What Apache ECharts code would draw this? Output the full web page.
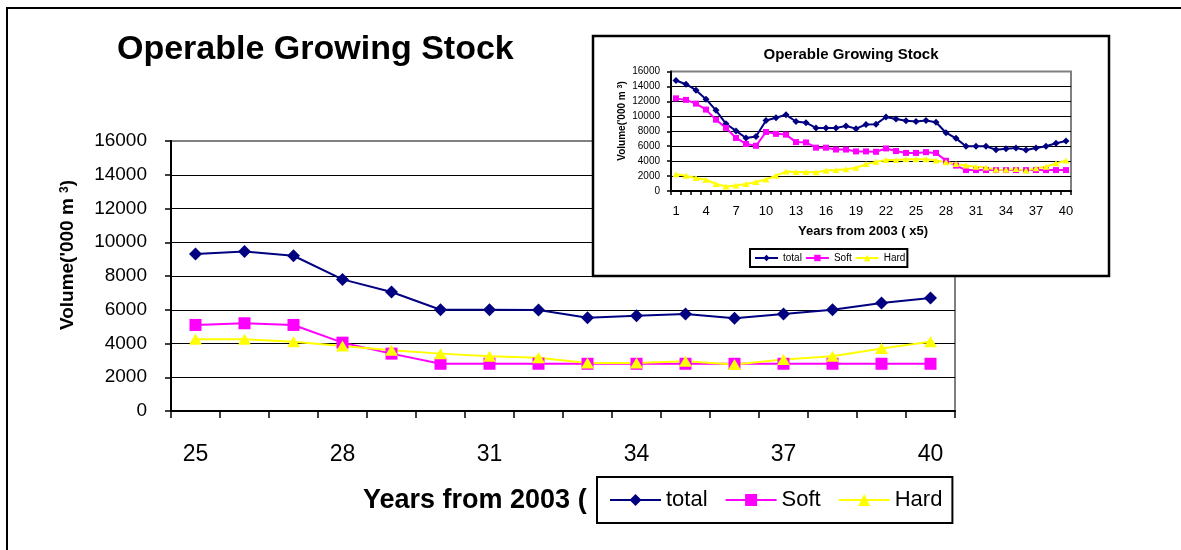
<!DOCTYPE html>
<html>
<head>
<meta charset="utf-8">
<title>Operable Growing Stock</title>
<script src="https://cdn.jsdelivr.net/npm/echarts@6/dist/echarts.min.js"></script>
<style>
  html, body { margin: 0; padding: 0; background: #fff; }
  #chart { width: 1181px; height: 550px; }
</style>
</head>
<body>
<div id="chart"></div>
<script>
// Five-year periods counted from 2003
const periods = ['1','2','3','4','5','6','7','8','9','10','11','12','13','14','15','16','17','18','19','20',
                 '21','22','23','24','25','26','27','28','29','30','31','32','33','34','35','36','37','38','39','40'];

// Operable growing stock, '000 m3
const total = [14800, 14300, 13500, 12300, 10800, 9000, 8050, 7100, 7300, 9450,
               9800, 10200, 9300, 9150, 8450, 8450, 8450, 8700, 8350, 8900,
               8950, 9900, 9650, 9400, 9300, 9450, 9200, 7800, 7050, 6000,
               6000, 5980, 5530, 5650, 5750, 5500, 5750, 6000, 6400, 6700];
const soft  = [12400, 12200, 11700, 10900, 9550, 8450, 7100, 6300, 6050, 7900,
               7650, 7550, 6550, 6500, 5800, 5800, 5550, 5550, 5300, 5300,
               5250, 5700, 5350, 5100, 5100, 5200, 5100, 4050, 3400, 2800,
               2800, 2800, 2800, 2800, 2800, 2800, 2800, 2800, 2800, 2800];
const hard  = [2250, 2050, 1750, 1500, 950, 600, 750, 950, 1200, 1550,
               2050, 2600, 2550, 2550, 2500, 2750, 2800, 2900, 3100, 3600,
               3900, 4150, 4150, 4250, 4250, 4250, 4100, 3850, 3600, 3400,
               3250, 3150, 2850, 2850, 2950, 2750, 3050, 3250, 3700, 4100];

// Value axis ticks
const volumeMin = 0;
const volumeMax = 16000;
const volumeStep = 2000;

// The large view shows the later part of the horizon (periods 25-40)
const zoomStart = periods.indexOf('25');

const FONT = "'Liberation Sans', Arial, Helvetica, sans-serif";
const NAVY = '#000080';
const MAGENTA = '#ff00ff';
const YELLOW = '#ffff00';
const GREY = '#808080';

// split lines are black except the top one, which is the grey plot frame
const gridColours = [];
for (let v = volumeMin; v <= volumeMax; v += volumeStep) {
  gridColours.push(v === volumeMax ? GREY : '#000');
}

const chart = echarts.init(document.getElementById('chart'), null, { renderer: 'canvas' });

function valueAxis(gridIndex, fontSize, margin, tickLen, z) {
  return {
    type: 'value', gridIndex: gridIndex, z: z,
    min: volumeMin, max: volumeMax, interval: volumeStep,
    axisLine: { show: true, lineStyle: { color: '#000', width: 2 } },
    axisTick: { show: true, length: tickLen, lineStyle: { color: '#000', width: 1.5 } },
    axisLabel: { color: '#000', fontSize: fontSize, fontFamily: FONT, margin: margin,
                 formatter: function (v) { return String(v); } },
    splitLine: { show: true, lineStyle: { color: gridColours, width: 1 } }
  };
}

function periodAxis(gridIndex, cats, fontSize, margin, tickLen, z) {
  return {
    type: 'category', gridIndex: gridIndex, z: z, data: cats, boundaryGap: true,
    axisLine: { show: true, lineStyle: { color: '#000', width: 2 } },
    axisTick: { show: true, interval: 0, length: tickLen, lineStyle: { color: '#000', width: 1.5 } },
    axisLabel: { color: '#000', fontSize: fontSize, fontFamily: FONT, margin: margin, interval: 2 },
    splitLine: { show: false }
  };
}

function lineSeries(name, data, colour, symbol, size, axisIndex, z) {
  return {
    name: name, type: 'line', data: data,
    xAxisIndex: axisIndex, yAxisIndex: axisIndex, z: z,
    symbol: symbol, symbolSize: size, showSymbol: true, showAllSymbol: true,
    lineStyle: { color: colour, width: 2 },
    itemStyle: { color: colour },
    emphasis: { disabled: true },
    animation: false
  };
}

const option = {
  backgroundColor: '#fff',
  animation: false,
  textStyle: { fontFamily: FONT },
  title: [
    { text: 'Operable Growing Stock', left: 117, top: 33, padding: 0,
      textStyle: { fontSize: 34, fontWeight: 'bold', color: '#000', fontFamily: FONT } },
    { text: 'Years from 2003 (', left: 363, top: 487, padding: 0,
      textStyle: { fontSize: 27, fontWeight: 'bold', color: '#000', fontFamily: FONT } },
    { text: 'Operable Growing Stock', left: 851, top: 47, padding: 0, textAlign: 'center', z: 60,
      textStyle: { fontSize: 15, fontWeight: 'bold', color: '#000', fontFamily: FONT } },
    { text: 'Years from 2003 ( x5)', left: 863, top: 225, padding: 0, textAlign: 'center', z: 60,
      textStyle: { fontSize: 13, fontWeight: 'bold', color: '#000', fontFamily: FONT } }
  ],
  legend: [
    { data: ['total', 'Soft', 'Hard'], left: 597, top: 477, orient: 'horizontal',
      padding: [12, 10, 12, 12], itemWidth: 51, itemHeight: 15, itemGap: 17,
      backgroundColor: '#fff', borderColor: '#000', borderWidth: 2, borderRadius: 0,
      textStyle: { fontSize: 22, color: '#000', fontFamily: FONT }, selectedMode: false, z: 10 },
    { data: ['total', 'Soft', 'Hard'], left: 750, top: 249, orient: 'horizontal',
      padding: [4, 2, 4, 4], itemWidth: 23, itemHeight: 8, itemGap: 3,
      backgroundColor: '#fff', borderColor: '#000', borderWidth: 2, borderRadius: 0,
      textStyle: { fontSize: 10, color: '#000', fontFamily: FONT }, selectedMode: false, z: 60 }
  ],
  grid: [
    { left: 171, right: 226, top: 141, bottom: 139, show: true, backgroundColor: 'transparent',
      borderColor: GREY, borderWidth: 2, containLabel: false, z: 0 },
    { left: 671, right: 110, top: 71.5, bottom: 359, show: true, backgroundColor: 'transparent',
      borderColor: GREY, borderWidth: 2, containLabel: false, z: 60 }
  ],
  xAxis: [
    periodAxis(0, periods.slice(zoomStart), 23, 32, 7, 0),
    periodAxis(1, periods, 13, 14, 4, 60)
  ],
  yAxis: [
    valueAxis(0, 19, 24, 6, 0),
    valueAxis(1, 10, 11, 4, 60)
  ],
  series: [
    lineSeries('total', total.slice(zoomStart), NAVY, 'diamond', 13, 0, 2),
    lineSeries('Soft', soft.slice(zoomStart), MAGENTA, 'rect', 12, 0, 2),
    lineSeries('Hard', hard.slice(zoomStart), YELLOW, 'triangle', [13, 11], 0, 2),
    lineSeries('total', total, NAVY, 'diamond', 7, 1, 62),
    lineSeries('Soft', soft, MAGENTA, 'rect', 6, 1, 62),
    lineSeries('Hard', hard, YELLOW, 'triangle', [7, 6], 1, 62)
  ],
  graphic: [
    // outer frame of the main figure
    { type: 'polyline', z: 1, silent: true,
      shape: { points: [[7, 552], [7, 8], [1183, 8]] },
      style: { stroke: '#000', lineWidth: 2, fill: null } },
    // panel holding the full-horizon chart
    { type: 'rect', z: 50, silent: true,
      shape: { x: 593, y: 36, width: 516, height: 240 },
      style: { fill: '#fff', stroke: '#000', lineWidth: 2.5 } },
    // vertical axis titles
    { type: 'text', z: 5, silent: true, x: 68, y: 255, rotation: Math.PI / 2,
      style: { text: "Volume('000 m {sup|3})", fill: '#000', align: 'center', verticalAlign: 'middle',
               font: 'bold 19px ' + FONT,
               rich: { sup: { fontSize: 12, fontWeight: 'bold', fontFamily: FONT, verticalAlign: 'top', fill: '#000' } } } },
    { type: 'text', z: 60, silent: true, x: 622, y: 121, rotation: Math.PI / 2,
      style: { text: "Volume('000 m {sup|3})", fill: '#000', align: 'center', verticalAlign: 'middle',
               font: 'bold 10px ' + FONT,
               rich: { sup: { fontSize: 7, fontWeight: 'bold', fontFamily: FONT, verticalAlign: 'top', fill: '#000' } } } }
  ]
};

chart.setOption(option);
</script>
</body>
</html>
